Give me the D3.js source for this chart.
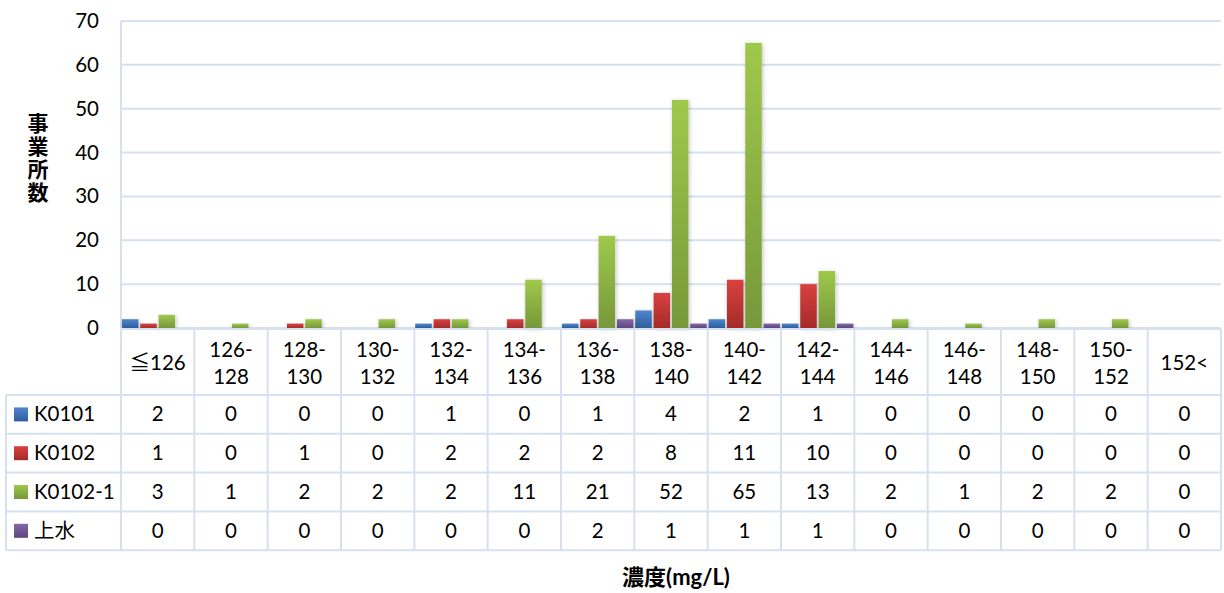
<!DOCTYPE html>
<html>
<head>
<meta charset="utf-8">
<title>濃度分布</title>
<script src="https://d3js.org/d3.v7.min.js"></script>
<style>
  body { margin: 0; background: #fff; }
  svg text { font-family: Lato, "Noto Sans CJK JP", sans-serif; fill: #000; }
</style>
</head>
<body>
<div id="chart"></div>
<script>
// data
var categories = ["≦126", "126-128", "128-130", "130-132", "132-134", "134-136", "136-138",
                  "138-140", "140-142", "142-144", "144-146", "146-148", "148-150", "150-152", "152<"];
var seriesNames = ["K0101", "K0102", "K0102-1", "上水"];
var k0101  = [2, 0, 0, 0, 1, 0, 1, 4, 2, 1, 0, 0, 0, 0, 0];
var k0102  = [1, 0, 1, 0, 2, 2, 2, 8, 11, 10, 0, 0, 0, 0, 0];
var k01021 = [3, 1, 2, 2, 2, 11, 21, 52, 65, 13, 2, 1, 2, 2, 0];
var josui  = [0, 0, 0, 0, 0, 0, 2, 1, 1, 1, 0, 0, 0, 0, 0];
var yTicks = [0, 10, 20, 30, 40, 50, 60, 70];

var series = [k0101, k0102, k01021, josui];
var colors = [["#4f86cf", "#2e5d9c"], ["#d9413f", "#a42b29"], ["#a0c84c", "#76983a"], ["#8467a6", "#5d4781"]];

var W = 1224, H = 593;
var plotL = 121, plotR = 1221, plotT = 21, plotB = 328;
var rowH = 38.8, headH = 66, legendX = 6;
var fs = "20.5px";

var svg = d3.select("#chart").append("svg").attr("width", W).attr("height", H);
var defs = svg.append("defs");
colors.forEach(function(c, i) {
  var g = defs.append("linearGradient").attr("id", "g" + i)
    .attr("x1", 0).attr("y1", 0).attr("x2", 0).attr("y2", 1);
  g.append("stop").attr("offset", "0%").attr("stop-color", c[0]);
  g.append("stop").attr("offset", "100%").attr("stop-color", c[1]);
});
var f = defs.append("filter").attr("id", "sh").attr("x", "-50%").attr("y", "-10%").attr("width", "200%").attr("height", "120%");
f.append("feDropShadow").attr("dx", 1).attr("dy", 1).attr("stdDeviation", 2).attr("flood-color", "#000").attr("flood-opacity", 0.25);

var x = d3.scaleBand().domain(categories).range([plotL, plotR]);
var xs = d3.scaleBand().domain(d3.range(4)).range([0, x.bandwidth()]).paddingInner(0.1).paddingOuter(0.05);
var y = d3.scaleLinear().domain([0, 70]).range([plotB, plotT]);

// gridlines
svg.append("g").selectAll("line").data(yTicks).enter().append("line")
  .attr("x1", plotL).attr("x2", plotR)
  .attr("y1", function(d) { return y(d); }).attr("y2", function(d) { return y(d); })
  .attr("stroke", "#d6e1f0").attr("stroke-width", 2);
svg.append("line").attr("x1", plotL).attr("x2", plotL).attr("y1", plotT).attr("y2", plotB)
  .attr("stroke", "#d6e1f0").attr("stroke-width", 2);

// y axis
var yAxis = svg.append("g").attr("transform", "translate(" + (plotL - 22) + ",0)")
  .call(d3.axisLeft(y).tickValues(yTicks).tickSize(0).tickPadding(0));
yAxis.select(".domain").remove();
yAxis.selectAll("text").style("font-size", fs).style("font-family", "Lato, sans-serif").attr("fill", "#000");

// bars
series.forEach(function(vals, si) {
  svg.append("g").selectAll("rect").data(vals).enter().append("rect")
    .attr("x", function(d, i) { return x(categories[i]) + xs(si); })
    .attr("width", xs.bandwidth())
    .attr("y", function(d) { return y(d); })
    .attr("height", function(d) { return plotB - y(d); })
    .attr("fill", "url(#g" + si + ")")
    .attr("filter", function(d) { return d > 0 ? "url(#sh)" : null; });
});

// data table
var tb = svg.append("g");
var tableTop = plotB + 1, bodyTop = tableTop + headH, tableBottom = bodyTop + 4 * rowH;
var lineC = "#d6e1f0";
tb.append("line").attr("x1", plotL).attr("x2", plotR).attr("y1", tableTop).attr("y2", tableTop)
  .attr("stroke", lineC).attr("stroke-width", 2);
d3.range(5).forEach(function(r) {
  var yy = bodyTop + r * rowH;
  tb.append("line").attr("x1", legendX).attr("x2", plotR).attr("y1", yy).attr("y2", yy)
    .attr("stroke", lineC).attr("stroke-width", 2);
});
tb.append("line").attr("x1", legendX).attr("x2", legendX).attr("y1", bodyTop).attr("y2", tableBottom)
  .attr("stroke", lineC).attr("stroke-width", 2);
categories.concat(["end"]).forEach(function(c, i) {
  var xx = i < categories.length ? x(c) : plotR;
  tb.append("line").attr("x1", xx).attr("x2", xx).attr("y1", tableTop).attr("y2", tableBottom)
    .attr("stroke", lineC).attr("stroke-width", 2);
});

// header labels
categories.forEach(function(c) {
  var cx = x(c) + x.bandwidth() / 2;
  var parts = c.indexOf("-") > 0 ? [c.split("-")[0] + "-", c.split("-")[1]] : [c];
  var t = tb.append("text").attr("text-anchor", "middle").style("font-size", fs);
  if (parts.length === 2) {
    t.append("tspan").attr("x", cx).attr("y", tableTop + 28).text(parts[0]);
    t.append("tspan").attr("x", cx).attr("y", tableTop + 55).text(parts[1]);
  } else {
    t.append("tspan").attr("x", cx).attr("y", tableTop + 41).text(parts[0]);
  }
});

// rows
series.forEach(function(vals, si) {
  var cy = bodyTop + si * rowH + rowH / 2;
  tb.append("rect").attr("x", 14).attr("y", cy - 7).attr("width", 14).attr("height", 14)
    .attr("fill", "url(#g" + si + ")");
  tb.append("text").attr("x", 34).attr("y", cy + 7).style("font-size", fs).text(seriesNames[si]);
  vals.forEach(function(v, i) {
    tb.append("text").attr("x", x(categories[i]) + x.bandwidth() / 2).attr("y", cy + 7)
      .attr("text-anchor", "middle").style("font-size", fs).text(v);
  });
});

// axis titles
var yt = svg.append("text").attr("text-anchor", "middle")
  .style("font-size", "21px").style("font-weight", "bold");
["事", "業", "所", "数"].forEach(function(ch, i) {
  yt.append("tspan").attr("x", 38).attr("y", 131 + i * 23).text(ch);
});
svg.append("text").attr("x", 676).attr("y", 585).attr("text-anchor", "middle")
  .style("font-size", "22px").style("font-weight", "bold").text("濃度(mg/L)");
</script>
</body>
</html>
